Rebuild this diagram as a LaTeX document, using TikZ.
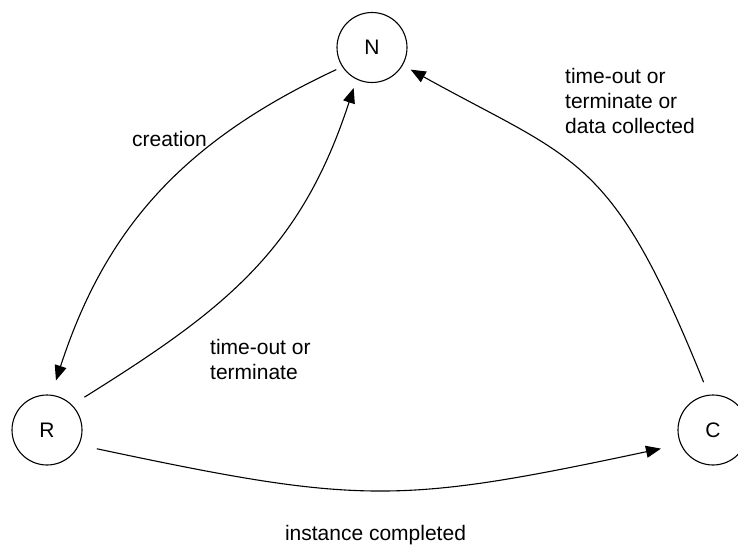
\documentclass[tikz,border=0pt]{standalone}
\usepackage{fontspec}
\setmainfont{Liberation Sans}
\usetikzlibrary{arrows.meta}

\tikzset{
    state/.style={circle, draw, line width=1.1pt, minimum size=70pt, inner sep=0pt},
    trans/.style={-{Triangle[length=15pt, width=12pt]}, line width=1.1pt},
    lbl/.style={inner sep=0pt, align=left}
}

\begin{document}
\begin{tikzpicture}[x=1pt, y=1pt, font=\fontsize{21pt}{25pt}\selectfont]
    \useasboundingbox (0,0) rectangle (738,544);

    % Nodes
    \node[state] at (372, 496.5) (N) {N};
    \node[state] at (47, 114) (R) {R};
    \node[state] at (713, 114) (C) {C};

    % Labels
    \node[lbl, anchor=base west] at (132, 397) (creation) {creation};
    \node[lbl, anchor=west] at (210, 185) (timeout) {time-out or\\terminate};
    \node[lbl, anchor=west] at (565, 443) (collected) {time-out or\\terminate or\\data collected};
    \node[lbl, anchor=base] at (375.5, 4) (completed) {instance completed};

    % Arrows
    \draw[trans, shorten <=6.5pt, shorten >=15pt] (N.213) .. controls +(205:175) and +(72:175) .. (R.83);
    \draw[trans, shorten <=14.5pt, shorten >=9pt] (R.45) .. controls +(32:180) and +(252:180) .. (N.244);
    \draw[trans, shorten <=13.5pt, shorten >=9pt] (C.97) .. controls +(112:260) and +(331:200) .. (N.330);
    \draw[trans, shorten <=18pt, shorten >=20pt] (R.335) .. controls +(348:288) and +(192:288) .. (C.204);
\end{tikzpicture}
\end{document}
